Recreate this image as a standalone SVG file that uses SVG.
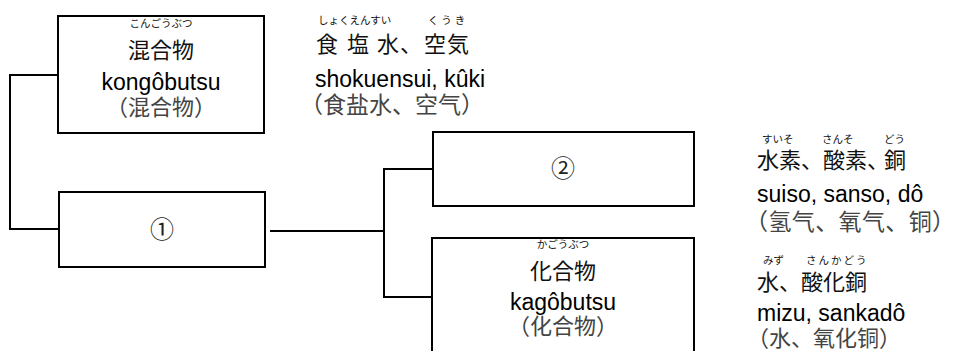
<svg xmlns="http://www.w3.org/2000/svg" width="958" height="351" viewBox="0 0 958 351">
<style>
.box{fill:#fff;stroke:#000;stroke-width:2}
.ln{fill:none;stroke:#000;stroke-width:2}
.jp{font-family:"Noto Sans CJK JP","Liberation Sans",sans-serif;font-size:22px;fill:#111}
.fu{font-family:"Noto Sans CJK JP","Liberation Sans",sans-serif;font-size:10.5px;fill:#111}
.la{font-family:"Liberation Sans",Arial,sans-serif;font-size:23px;fill:#000}
.zh{font-family:"Noto Sans CJK SC","Liberation Sans",sans-serif;font-size:22px;fill:#444}
.num{font-family:"Noto Sans CJK JP","Liberation Sans",sans-serif;font-size:24px;fill:#222}
.c{text-anchor:middle}
</style>
<rect width="958" height="351" fill="#fff"/>
<g id="connectors">
<polyline class="ln" points="58,75 10,75 10,229 59,229"/>
<line class="ln" x1="270" y1="231" x2="384" y2="231"/>
<polyline class="ln" points="433,169 384,169 384,297 432,297"/>
</g>
<g id="node-mixture">
<rect class="box" x="58" y="16" width="206" height="117"/>
<text class="fu c" x="161" y="27">こんごうぶつ</text>
<text class="jp c" x="161" y="58">混合物</text>
<text class="la c" x="161" y="90">kongôbutsu</text>
<text class="zh c" x="161" y="115">（混合物）</text>
</g>
<g id="node-1">
<rect class="box" x="59" y="192" width="206" height="75"/>
<text class="num c" x="162" y="238">①</text>
</g>
<g id="node-2">
<rect class="box" x="433" y="132" width="261" height="74"/>
<text class="num c" x="563" y="177">②</text>
</g>
<g id="node-compound">
<rect class="box" x="432" y="238" width="262" height="125"/>
<text class="fu c" x="563" y="248">かごうぶつ</text>
<text class="jp c" x="563" y="279">化合物</text>
<text class="la c" x="563" y="310">kagôbutsu</text>
<text class="zh c" x="563" y="334">（化合物）</text>
</g>
<g id="text-mixture-examples">
<text class="fu" x="318" y="24">しょくえんすい</text>
<text class="fu" x="428" y="24" letter-spacing="3">くうき</text>
<text class="jp" y="52"><tspan x="316">食</tspan><tspan x="347">塩</tspan><tspan x="377">水</tspan><tspan x="400">、</tspan><tspan x="424">空</tspan><tspan x="447">気</tspan></text>
<text class="la" x="315" y="87">shokuensui, kûki</text>
<text class="zh" x="300" y="113" style="font-size:23px">（食盐水、空气）</text>
</g>
<g id="text-element-examples">
<text class="fu" x="762" y="143">すいそ</text>
<text class="fu" x="822" y="143">さんそ</text>
<text class="fu" x="884" y="143">どう</text>
<text class="jp" y="168"><tspan x="757">水素、酸素、</tspan><tspan x="884">銅</tspan></text>
<text class="la" x="757" y="202">suiso, sanso, dô</text>
<text class="zh" x="745" y="230" style="font-size:23px" textLength="210" lengthAdjust="spacing">（氢气、氧气、铜）</text>
</g>
<g id="text-compound-examples">
<text class="fu" x="763" y="264">みず</text>
<text class="fu" x="806" y="264" letter-spacing="2">さんかどう</text>
<text class="jp" x="757" y="290">水、酸化銅</text>
<text class="la" x="757" y="321">mizu, sankadô</text>
<text class="zh" x="747" y="346">（水、氧化铜）</text>
</g>
</svg>
